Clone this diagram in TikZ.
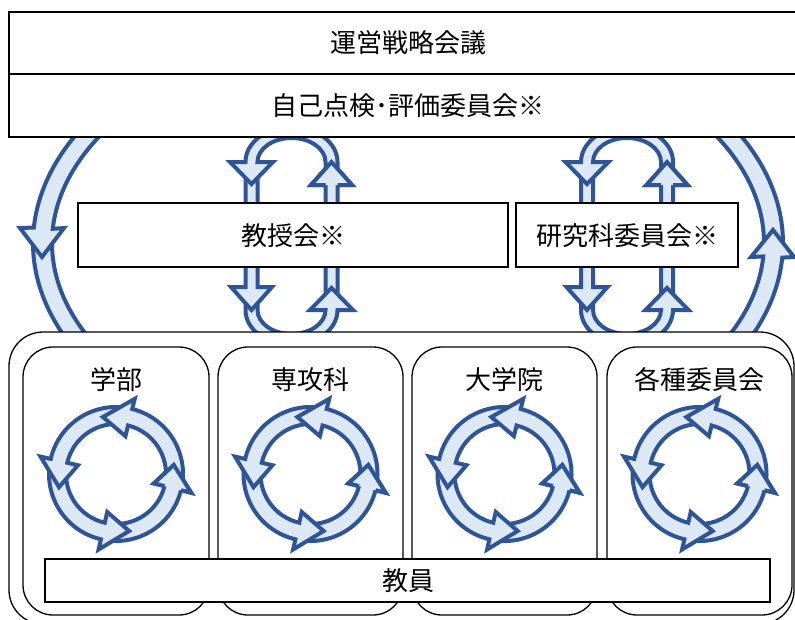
\documentclass[tikz,border=0pt]{standalone}
\usepackage{fontspec}
\newfontfamily\jpfont{Noto Sans CJK JP}
\definecolor{arrowline}{HTML}{2F5597}
\definecolor{arrowfill}{HTML}{DDE8F5}
\def\rRo{67}
\def\rRi{50}
\def\rRm{58.5}
\def\rHo{77.5}
\def\rHi{39}
% ring arrow: tail, base, tip (TikZ angles, decreasing)
\newcommand\ringarrow[3]{\draw[blk] (#1:\rRo) arc[start angle=#1,end angle=#2,radius=\rRo] -- (#2:\rHo) -- (#3:\rRm) -- (#2:\rHi) -- (#2:\rRi) arc[start angle=#2,end angle=#1,radius=\rRi] -- cycle;}
\newcommand\ringhead[2]{\fill[arrowfill] (#1:\rHo) -- (#2:\rRm) -- (#1:\rHi) -- cycle;
  \draw[blkline] (#1:\rRo) -- (#1:\rHo) -- (#2:\rRm) -- (#1:\rHi) -- (#1:\rRi);}
\newcommand\cyclering[2]{\begin{scope}[shift={(#1,#2)}]
  \ringarrow{-262}{-346}{-369}
  \ringarrow{-172}{-257}{-283}
  \ringarrow{-81}{-167}{-193}
  \ringarrow{9}{-76}{-103}
  \ringhead{-346}{-369}
\end{scope}}
% loop pieces (local coordinates, centre of loop at origin)
\newcommand\loopU{\draw[blk] (46,-64) -- (46,-74) arc[start angle=0,end angle=-180,x radius=46,y radius=35] -- (-61.5,-74) -- (-40,-52) -- (-18.5,-74) -- (-34,-74) arc[start angle=-180,end angle=0,x radius=34,y radius=24] -- (34,-64) -- cycle;}
\newcommand\loopS{\draw[blk] (34,64) -- (34,-51) -- (19.5,-51) -- (40,-74) -- (60.5,-51) -- (46,-51) -- (46,64) -- cycle;}
\newcommand\loopH{\fill[arrowfill] (19.5,-51) -- (40,-74) -- (60.5,-51) -- cycle;
  \draw[blkline] (34,-51) -- (19.5,-51) -- (40,-74) -- (60.5,-51) -- (46,-51);}
\newcommand\loopall[1]{\begin{scope}[shift={(#1,236)}]
  \loopS
  \begin{scope}[rotate=180]\loopU \loopS\end{scope}
  \loopU
  \loopH
\end{scope}}
\begin{document}
\begin{tikzpicture}[x=1pt,y=-1pt,
  blk/.style={draw=arrowline, fill=arrowfill, line width=4pt, line join=miter, miter limit=6},
  blkline/.style={draw=arrowline, line width=4pt, line join=miter, miter limit=6},
  boxsty/.style={draw=black, line width=1.3pt, fill=white},
  lbl/.style={font=\jpfont\fontsize{26}{30}\selectfont, inner sep=0pt, text=black}]
\useasboundingbox (0,0) rectangle (795,619);
\clip (0,0) rectangle (795,619);
\fill[white] (0,0) rectangle (795,619);

% big elliptical arcs
\begin{scope}[shift={(408,243)}]
  \draw[blk] (182:375 and 233) arc[start angle=182,end angle=148,x radius=375,y radius=233] -- (148:356 and 214) arc[start angle=148,end angle=182,x radius=356,y radius=214] -- cycle;
  \draw[blk] (214:375 and 233) arc[start angle=214,end angle=183.8,x radius=375,y radius=233] -- (-388,-15) -- (-366,14) -- (-344,-15) -- (183.8:356 and 214) arc[start angle=183.8,end angle=214,x radius=356,y radius=214] -- cycle;
  \draw[blk] (0.5:375 and 233) arc[start angle=0.5,end angle=-36,x radius=375,y radius=233] -- (-36:356 and 214) arc[start angle=-36,end angle=0.5,x radius=356,y radius=214] -- cycle;
  \draw[blk] (32:375 and 233) arc[start angle=32,end angle=3.6,x radius=375,y radius=233] -- (386,14) -- (365,-13) -- (343,14) -- (3.6:356 and 214) arc[start angle=3.6,end angle=32,x radius=356,y radius=214] -- cycle;
\end{scope}

% small loops
\loopall{291.5}
\loopall{627}

% top box
\draw[boxsty] (9,12) rectangle (812,137);
\draw[black, line width=1.3pt] (9,74) -- (812,74);
\node[lbl] (unei) at (408,43) {運営戦略会議};
\node[lbl] (jiko) at (408,106) {自己点検･評価委員会※};

% middle boxes
\draw[boxsty] (78,203) rectangle (508,267);
\node[lbl] (kyoju) at (293,236) {教授会※};
\draw[boxsty] (516,203) rectangle (738,267);
\node[lbl] (kenkyu) at (627,236) {研究科委員会※};

% bottom boxes
\draw[boxsty, rounded corners=34pt] (9,332) rectangle (794,624);
\draw[boxsty, rounded corners=30pt] (23,347) rectangle (209,615);
\draw[boxsty, rounded corners=30pt] (218,347) rectangle (403,615);
\draw[boxsty, rounded corners=30pt] (412,347) rectangle (597,615);
\draw[boxsty, rounded corners=30pt] (607,347) rectangle (792,615);
\node[lbl] (gakubu) at (116,380) {学部};
\node[lbl] (senko) at (310.5,380) {専攻科};
\node[lbl] (daigakuin) at (504.5,380) {大学院};
\node[lbl] (kakushu) at (699.5,380) {各種委員会};

\cyclering{116}{474}
\cyclering{310.5}{474}
\cyclering{504.5}{474}
\cyclering{699.5}{474}

\draw[boxsty] (45,559) rectangle (770,602);
\node[lbl] (kyoin) at (408,581) {教員};
\end{tikzpicture}
\end{document}
